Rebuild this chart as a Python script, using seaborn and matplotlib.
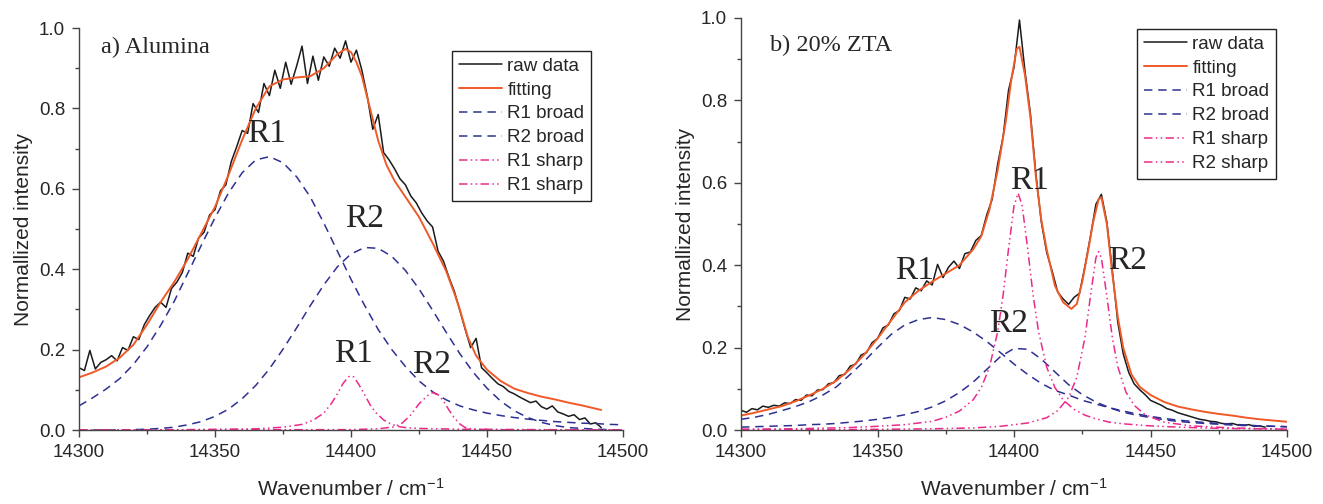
import numpy as np
import matplotlib
matplotlib.use("Agg")
import matplotlib.pyplot as plt
from matplotlib.ticker import MultipleLocator
import seaborn as sns

# ---------------- data ----------------
# raw spectra, sampled every 2 cm-1 starting at 14300
raw_start, raw_step = 14300, 2
raw_a = [0.155, 0.148, 0.198, 0.152, 0.168, 0.175, 0.185, 0.172, 0.205, 0.198,
         0.232, 0.225, 0.262, 0.285, 0.305, 0.318, 0.305, 0.352, 0.368, 0.392,
         0.440, 0.432, 0.478, 0.492, 0.535, 0.548, 0.595, 0.610, 0.668, 0.705,
         0.745, 0.738, 0.812, 0.790, 0.862, 0.832, 0.895, 0.850, 0.915, 0.860,
         0.905, 0.955, 0.862, 0.930, 0.870, 0.928, 0.905, 0.950, 0.925, 0.968,
         0.915, 0.945, 0.895, 0.830, 0.748, 0.785, 0.690, 0.672, 0.650, 0.625,
         0.610, 0.582, 0.565, 0.540, 0.520, 0.505, 0.445, 0.420, 0.380, 0.345,
         0.298, 0.250, 0.205, 0.228, 0.155, 0.142, 0.128, 0.115, 0.108, 0.096,
         0.090, 0.082, 0.075, 0.068, 0.072, 0.058, 0.052, 0.060, 0.045, 0.040,
         0.034, 0.038, 0.026, 0.030, 0.015, 0.018, 0.006]
raw_b = [0.048, 0.043, 0.052, 0.049, 0.058, 0.055, 0.060, 0.058, 0.066, 0.064,
         0.074, 0.072, 0.085, 0.083, 0.097, 0.098, 0.112, 0.115, 0.132, 0.135,
         0.155, 0.160, 0.182, 0.188, 0.212, 0.222, 0.248, 0.255, 0.282, 0.290,
         0.322, 0.318, 0.345, 0.338, 0.362, 0.352, 0.402, 0.370, 0.395, 0.410,
         0.392, 0.428, 0.432, 0.460, 0.472, 0.522, 0.560, 0.645, 0.712, 0.825,
         0.880, 0.995, 0.872, 0.768, 0.622, 0.505, 0.430, 0.385, 0.335, 0.318,
         0.305, 0.322, 0.332, 0.398, 0.470, 0.548, 0.572, 0.505, 0.388, 0.262,
         0.185, 0.140, 0.112, 0.098, 0.086, 0.072, 0.066, 0.060, 0.052, 0.048,
         0.042, 0.038, 0.034, 0.030, 0.026, 0.024, 0.021, 0.020, 0.016, 0.015,
         0.016, 0.012, 0.011, 0.013, 0.009, 0.010, 0.007]

# fitted envelopes
fit_a_x = [14300, 14305, 14310, 14315, 14320, 14325, 14330, 14335, 14340, 14345,
           14350, 14355, 14360, 14365, 14370, 14375, 14380, 14385, 14390, 14395,
           14398, 14400, 14402, 14404, 14407, 14410, 14413, 14416, 14420, 14425,
           14430, 14435, 14438, 14440, 14443, 14446, 14450, 14455, 14460, 14465,
           14470, 14475, 14480, 14485, 14490, 14492]
fit_a_y = [0.131, 0.143, 0.158, 0.180, 0.212, 0.262, 0.318, 0.368, 0.425, 0.490,
           0.555, 0.635, 0.722, 0.800, 0.855, 0.872, 0.877, 0.880, 0.900, 0.935,
           0.948, 0.940, 0.915, 0.880, 0.800, 0.720, 0.660, 0.620, 0.580, 0.530,
           0.465, 0.395, 0.340, 0.300, 0.230, 0.185, 0.150, 0.122, 0.103, 0.092,
           0.083, 0.076, 0.068, 0.061, 0.053, 0.050]
fit_b_x = [14300, 14305, 14310, 14315, 14320, 14325, 14330, 14335, 14340, 14345,
           14350, 14355, 14360, 14365, 14370, 14375, 14380, 14385, 14388, 14391,
           14394, 14397, 14399, 14401, 14402, 14404, 14406, 14408, 14410, 14412,
           14415, 14418, 14421, 14423, 14425, 14427, 14429, 14431, 14432, 14434,
           14436, 14438, 14440, 14443, 14446, 14450, 14455, 14460, 14465, 14470,
           14475, 14480, 14485, 14490, 14495, 14500]
fit_b_y = [0.035, 0.042, 0.050, 0.058, 0.070, 0.084, 0.100, 0.120, 0.148, 0.182,
           0.222, 0.266, 0.310, 0.338, 0.360, 0.380, 0.400, 0.438, 0.470, 0.535,
           0.630, 0.750, 0.850, 0.925, 0.930, 0.862, 0.760, 0.615, 0.510, 0.437,
           0.350, 0.310, 0.294, 0.306, 0.360, 0.430, 0.505, 0.560, 0.565, 0.500,
           0.380, 0.275, 0.200, 0.135, 0.105, 0.085, 0.068, 0.057, 0.050, 0.044,
           0.039, 0.035, 0.030, 0.026, 0.023, 0.020]

# broad components, every 5 cm-1 from 14300 to 14500
broad_x = list(range(14300, 14501, 5))
r1_broad_a = [0.060, 0.080, 0.102, 0.128, 0.163, 0.207, 0.260, 0.320, 0.390, 0.460,
              0.528, 0.590, 0.640, 0.672, 0.680, 0.665, 0.630, 0.580, 0.515, 0.445,
              0.375, 0.310, 0.250, 0.200, 0.158, 0.122, 0.095, 0.075, 0.060, 0.050,
              0.042, 0.036, 0.031, 0.027, 0.024, 0.021, 0.019, 0.017, 0.016, 0.014,
              0.013]
r2_broad_a = [0.000, 0.000, 0.000, 0.000, 0.001, 0.002, 0.004, 0.007, 0.013, 0.021,
              0.034, 0.052, 0.078, 0.111, 0.152, 0.201, 0.254, 0.309, 0.361, 0.406,
              0.438, 0.454, 0.452, 0.432, 0.397, 0.351, 0.298, 0.243, 0.190, 0.143,
              0.104, 0.072, 0.048, 0.031, 0.019, 0.011, 0.006, 0.004, 0.002, 0.001,
              0.000]
r1_broad_b = [0.026, 0.031, 0.038, 0.047, 0.057, 0.069, 0.085, 0.105, 0.135, 0.166,
              0.200, 0.232, 0.255, 0.268, 0.273, 0.268, 0.256, 0.238, 0.215, 0.188,
              0.160, 0.135, 0.113, 0.096, 0.085, 0.072, 0.063, 0.054, 0.046, 0.039,
              0.033, 0.028, 0.024, 0.021, 0.018, 0.016, 0.014, 0.012, 0.010, 0.009,
              0.008]
r2_broad_b = [0.007, 0.008, 0.009, 0.010, 0.011, 0.013, 0.014, 0.016, 0.019, 0.022,
              0.026, 0.031, 0.037, 0.045, 0.056, 0.071, 0.091, 0.116, 0.147, 0.178,
              0.198, 0.196, 0.172, 0.141, 0.110, 0.086, 0.068, 0.054, 0.043, 0.036,
              0.030, 0.025, 0.021, 0.018, 0.016, 0.014, 0.012, 0.011, 0.010, 0.009,
              0.008]

# sharp components (denser sampling near the peaks)
r1_sharp_a_x = [14300, 14340, 14365, 14375, 14382, 14386, 14390, 14393, 14395, 14397,
                14399, 14400, 14401, 14403, 14405, 14407, 14409, 14412, 14415, 14418,
                14420, 14425, 14440, 14470, 14500]
r1_sharp_a_y = [0.000, 0.001, 0.003, 0.007, 0.014, 0.024, 0.042, 0.068, 0.090, 0.115,
                0.132, 0.135, 0.132, 0.112, 0.088, 0.063, 0.044, 0.025, 0.014, 0.008,
                0.006, 0.004, 0.002, 0.001, 0.000]
r2_sharp_a_x = [14300, 14400, 14410, 14416, 14419, 14422, 14425, 14428, 14430, 14432,
                14434, 14436, 14438, 14440, 14442, 14445, 14460, 14500]
r2_sharp_a_y = [0.000, 0.001, 0.003, 0.008, 0.018, 0.038, 0.065, 0.085, 0.093, 0.088,
                0.072, 0.050, 0.030, 0.015, 0.006, 0.002, 0.000, 0.000]
r1_sharp_b_x = [14300, 14320, 14340, 14350, 14360, 14370, 14375, 14380, 14385, 14388,
                14391, 14394, 14396, 14398, 14400, 14401.5, 14403, 14405, 14407, 14409,
                14412, 14415, 14418, 14422, 14426, 14430, 14435, 14440, 14450, 14460,
                14475, 14500]
r1_sharp_b_y = [0.002, 0.003, 0.006, 0.009, 0.013, 0.021, 0.031, 0.046, 0.073, 0.103,
                0.152, 0.238, 0.327, 0.440, 0.544, 0.575, 0.544, 0.440, 0.327, 0.238,
                0.152, 0.103, 0.073, 0.050, 0.036, 0.027, 0.019, 0.015, 0.010, 0.007,
                0.004, 0.002]
r2_sharp_b_x = [14300, 14340, 14370, 14385, 14395, 14405, 14412, 14416, 14420, 14423,
                14426, 14428, 14430, 14431, 14432, 14434, 14436, 14438, 14441, 14444,
                14448, 14455, 14465, 14480, 14500]
r2_sharp_b_y = [0.001, 0.001, 0.003, 0.005, 0.009, 0.017, 0.030, 0.047, 0.079, 0.128,
                0.225, 0.325, 0.418, 0.433, 0.418, 0.325, 0.225, 0.154, 0.092, 0.060,
                0.037, 0.019, 0.010, 0.005, 0.002]

legend_a = ["raw data", "fitting", "R1 broad", "R2 broad", "R1 sharp", "R1 sharp"]
legend_b = ["raw data", "fitting", "R1 broad", "R2 broad", "R1 sharp", "R2 sharp"]

# peak labels: (text, x, y)
peaks_a = [("R1", 14369, 0.737), ("R2", 14405, 0.526), ("R1", 14401, 0.19), ("R2", 14429.5, 0.162)]
peaks_b = [("R1", 14363.5, 0.386), ("R1", 14405.5, 0.605), ("R2", 14398, 0.258), ("R2", 14441.5, 0.412)]

# ---------------- style ----------------
sns.set_style("ticks")
plt.rcParams['font.family'] = ['Liberation Sans', 'DejaVu Sans']
plt.rcParams['mathtext.fontset'] = 'custom'
plt.rcParams['mathtext.rm'] = 'Liberation Sans'
plt.rcParams['mathtext.default'] = 'regular'

RAW_C = "#1a1a1a"
FIT_C = "#f05a28"
BROAD_C = "#2e3192"
SHARP_C = "#ec2a8c"
TXT_C = "#262626"
broad_ls = (0, (5.5, 3.8))
sharp_ls = (0, (5.5, 2.2, 1.0, 2.2, 1.0, 2.2))
serif = ['Liberation Serif', 'DejaVu Serif']


def draw_panel(ax, raw, fit_x, fit_y, r1b, r2b, r1s, r2s, names, peaks, title, title_pos):
    raw_x = raw_start + raw_step * np.arange(len(raw))
    sns.lineplot(x=raw_x, y=raw, color=RAW_C, lw=1.1, label=names[0], ax=ax, legend=False)
    sns.lineplot(x=fit_x, y=fit_y, color=FIT_C, lw=1.4, label=names[1], ax=ax, legend=False)
    sns.lineplot(x=broad_x, y=r1b, color=BROAD_C, lw=1.1, linestyle=broad_ls, label=names[2], ax=ax, legend=False)
    sns.lineplot(x=broad_x, y=r2b, color=BROAD_C, lw=1.1, linestyle=broad_ls, label=names[3], ax=ax, legend=False)
    sns.lineplot(x=r1s[0], y=r1s[1], color=SHARP_C, lw=1.1, linestyle=sharp_ls, label=names[4], ax=ax, legend=False)
    sns.lineplot(x=r2s[0], y=r2s[1], color=SHARP_C, lw=1.1, linestyle=sharp_ls, label=names[5], ax=ax, legend=False)

    for txt, x, y in peaks:
        ax.text(x, y, txt, family=serif, fontsize=24, color=TXT_C, ha='center', va='center')
    ax.text(title_pos[0], title_pos[1], title, family=serif, fontsize=17.5, color=TXT_C,
            ha='left', va='center')

    ax.set_xlim(14300, 14500)
    ax.set_ylim(0, 1.0)
    ax.xaxis.set_major_locator(MultipleLocator(50))
    ax.xaxis.set_minor_locator(MultipleLocator(25))
    ax.yaxis.set_major_locator(MultipleLocator(0.2))
    ax.yaxis.set_minor_locator(MultipleLocator(0.1))
    ax.yaxis.set_major_formatter(plt.FormatStrFormatter('%.1f'))
    ax.tick_params(which='major', direction='out', length=5, width=1, color='#444444',
                   labelsize=13.5, labelcolor=TXT_C, pad=5)
    ax.tick_params(which='minor', direction='out', length=3, width=1, color='#444444')
    sns.despine(ax=ax)
    for s in ['left', 'bottom']:
        ax.spines[s].set_color('#444444')
        ax.spines[s].set_linewidth(1.0)
    ax.set_xlabel("Wavenumber / cm$^{-1}$", fontsize=15, color=TXT_C, labelpad=12)
    ax.set_ylabel("Normallized intensity", fontsize=15, color=TXT_C, labelpad=4)


fig = plt.figure(figsize=(13.23, 5.04), dpi=100)
ax_a = fig.add_axes([0.0597, 0.1468, 0.4112, 0.7976])
ax_b = fig.add_axes([0.5601, 0.1468, 0.4127, 0.8175])

draw_panel(ax_a, raw_a, fit_a_x, fit_a_y, r1_broad_a, r2_broad_a,
           (r1_sharp_a_x, r1_sharp_a_y), (r2_sharp_a_x, r2_sharp_a_y),
           legend_a, peaks_a, "a) Alumina", (14308, 0.951))
draw_panel(ax_b, raw_b, fit_b_x, fit_b_y, r1_broad_b, r2_broad_b,
           (r1_sharp_b_x, r1_sharp_b_y), (r2_sharp_b_x, r2_sharp_b_y),
           legend_b, peaks_b, "b) 20% ZTA", (14310.5, 0.933))

for ax, anchor in [(ax_a, (452 / 1323, 1 - 51 / 504)), (ax_b, (1137 / 1323, 1 - 29 / 504))]:
    h, l = ax.get_legend_handles_labels()
    leg = ax.legend(h, l, loc='upper left', bbox_to_anchor=anchor, bbox_transform=fig.transFigure,
                    fontsize=13.5, frameon=True, fancybox=False, edgecolor='#222222',
                    framealpha=1, borderpad=0.35, labelspacing=0.36, handlelength=2.3,
                    handletextpad=0.3, borderaxespad=0)
    leg.get_frame().set_linewidth(1.0)
    for t in leg.get_texts():
        t.set_color(TXT_C)

fig.savefig("out.png", dpi=100)
